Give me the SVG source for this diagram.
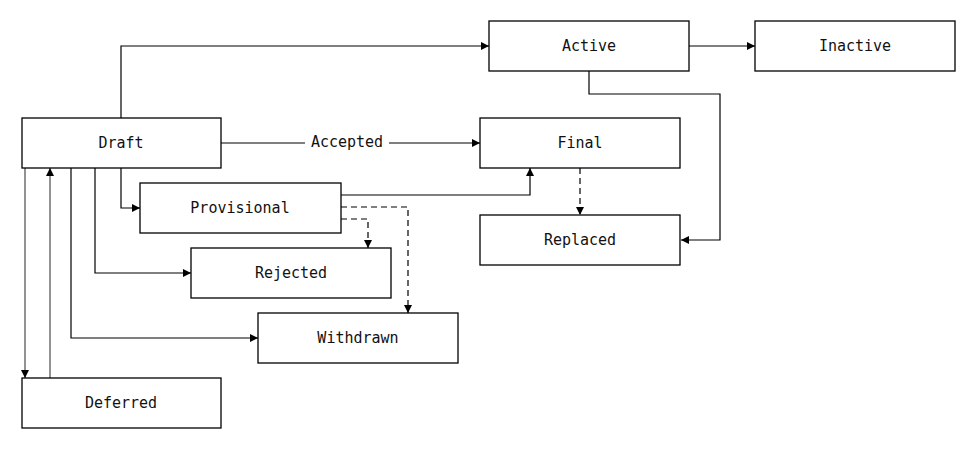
<svg xmlns="http://www.w3.org/2000/svg" width="976" height="449" viewBox="0 0 976 449">
<style>
.n rect{fill:#fff;stroke:#000;stroke-width:1.3}
.n text{font-family:"DejaVu Sans Mono",monospace;font-size:15px;text-anchor:middle;dominant-baseline:central;fill:#111}
.e path{fill:none;stroke:#000;stroke-width:1.2}
.e .d{stroke-dasharray:6 4}
.e .g{stroke:#777;stroke-width:1.6}
.lbl{font-family:"DejaVu Sans Mono",monospace;font-size:15px;text-anchor:middle;dominant-baseline:central;fill:#111}
</style>
<defs>
<marker id="a" viewBox="0 0 10 10" refX="10" refY="5" markerWidth="8" markerHeight="8" markerUnits="userSpaceOnUse" orient="auto"><path d="M0,0L10,5L0,10z" fill="#000"/></marker>
</defs>
<rect width="976" height="449" fill="#fff"/>
<g class="e">
<path d="M121,118V46H489" marker-end="url(#a)"/>
<path d="M689,46H755" marker-end="url(#a)"/>
<path d="M589,71V94H720V240H681" marker-end="url(#a)"/>
<path d="M221,143H305M389,143H480" marker-end="url(#a)"/>
<path d="M121,168V208H140" marker-end="url(#a)"/>
<path d="M95,168V273H191" marker-end="url(#a)"/>
<path d="M71,168V338H258" marker-end="url(#a)"/>
<path class="g" d="M25,168V378" marker-end="url(#a)"/>
<path class="g" d="M50,378V168" marker-end="url(#a)"/>
<path d="M341,195H530V168" marker-end="url(#a)"/>
<path class="d" d="M341,207H408V313" marker-end="url(#a)"/>
<path class="d" d="M341,219H368V248" marker-end="url(#a)"/>
<path class="d" d="M580,168V215" marker-end="url(#a)"/>
<text class="lbl" x="347" y="142">Accepted</text>
</g>
<g id="draft" class="n"><rect x="22" y="118" width="199" height="50"/><text x="121" y="143">Draft</text></g>
<g id="provisional" class="n"><rect x="140" y="183" width="201" height="50"/><text x="240" y="208">Provisional</text></g>
<g id="rejected" class="n"><rect x="191" y="248" width="200" height="50"/><text x="291" y="273">Rejected</text></g>
<g id="withdrawn" class="n"><rect x="258" y="313" width="200" height="50"/><text x="358" y="338">Withdrawn</text></g>
<g id="deferred" class="n"><rect x="22" y="378" width="199" height="50"/><text x="121" y="403">Deferred</text></g>
<g id="active" class="n"><rect x="489" y="21" width="200" height="50"/><text x="589" y="46">Active</text></g>
<g id="inactive" class="n"><rect x="755" y="21" width="200" height="50"/><text x="855" y="46">Inactive</text></g>
<g id="final" class="n"><rect x="480" y="118" width="200" height="50"/><text x="580" y="143">Final</text></g>
<g id="replaced" class="n"><rect x="480" y="215" width="200" height="50"/><text x="580" y="240">Replaced</text></g>
</svg>
